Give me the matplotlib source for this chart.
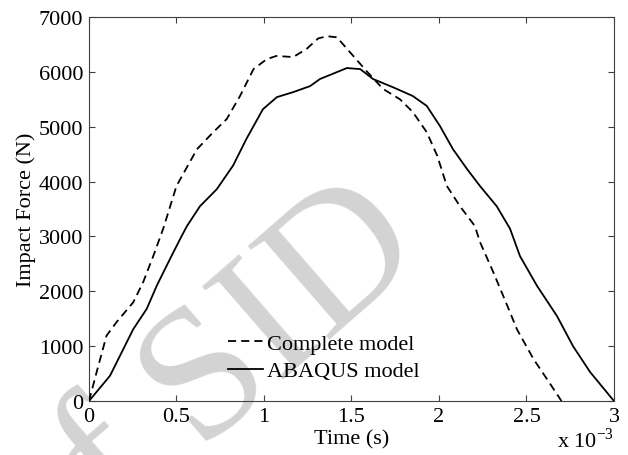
import numpy as np
import matplotlib.pyplot as plt

plt.rcParams.update({
    'font.family': 'serif',
    'font.serif': ['Liberation Serif', 'DejaVu Serif'],
    'mathtext.fontset': 'custom',
    'mathtext.rm': 'Liberation Serif',
    'font.size': 16,
    'axes.unicode_minus': False,
})

# ================= Data (time in ms, force in N) =================
t_complete = [0, 0.044, 0.10, 0.158, 0.253, 0.31, 0.367, 0.424, 0.50, 0.617,
              0.71, 0.787, 0.863, 0.94, 1.015, 1.07, 1.167, 1.244, 1.31, 1.36,
              1.417, 1.51, 1.59, 1.68, 1.777, 1.85, 1.93, 1.99, 2.045, 2.12,
              2.205, 2.234, 2.31, 2.39, 2.445, 2.54, 2.617, 2.70]
f_complete = [0, 530, 1190, 1440, 1800, 2170, 2640, 3140, 3920, 4590,
              4900, 5140, 5560, 6050, 6230, 6290, 6270, 6420, 6610, 6650,
              6630, 6290, 6000, 5690, 5500, 5270, 4900, 4470, 3920, 3550,
              3190, 2900, 2350, 1740, 1310, 765, 400, 0]

t_abaqus = [0, 0.12, 0.253, 0.33, 0.387, 0.463, 0.53, 0.56, 0.634, 0.73,
            0.823, 0.90, 0.994, 1.074, 1.166, 1.263, 1.32, 1.474, 1.55, 1.623,
            1.737, 1.85, 1.93, 2.006, 2.08, 2.16, 2.234, 2.33, 2.406, 2.463,
            2.56, 2.674, 2.766, 2.863, 3.0]
f_abaqus = [0, 460, 1310, 1680, 2100, 2590, 3010, 3190, 3550, 3860,
            4290, 4780, 5320, 5540, 5630, 5740, 5870, 6070, 6050, 5870,
            5720, 5560, 5380, 5010, 4590, 4230, 3920, 3550, 3140, 2640,
            2100, 1550, 1000, 530, 0]

x_ticks = [0, 0.5, 1, 1.5, 2, 2.5, 3]
x_labels = ['0', '0.5', '1', '1.5', '2', '2.5', '3']
y_ticks = [0, 1000, 2000, 3000, 4000, 5000, 6000, 7000]

fig = plt.figure(figsize=(6.28, 4.56), dpi=100)
ax = fig.add_axes([0.1417, 0.1184, 0.8360, 0.8421])

# watermark, behind the curves
ax.text(0.33, 0.155, 'of SID', transform=fig.transFigure, fontsize=135,
        color='#d3d3d3', rotation=41, rotation_mode='anchor',
        ha='center', va='center', zorder=1, clip_on=False)

ax.plot(t_complete, f_complete, color='black', lw=1.3, ls=(0, (4.5, 2.8)),
        label='Complete model', zorder=3)
ax.plot(t_abaqus, f_abaqus, color='black', lw=1.3, label='ABAQUS model', zorder=3)

ax.set_xlim(0, 3)
ax.set_ylim(0, 7000)
ax.set_xticks(x_ticks)
ax.set_xticklabels(x_labels)
ax.set_yticks(y_ticks)
ax.tick_params(direction='in', top=True, right=True, length=4, width=0.8,
               color='#404040', pad=4)
for s in ax.spines.values():
    s.set_color('#404040')
    s.set_linewidth(0.8)

ax.set_xlabel('Time (s)', labelpad=3)
ax.set_ylabel('Impact Force (N)', labelpad=2)
ax.text(1.0, -0.068, r'x 10$^{-3}$', transform=ax.transAxes, ha='right', va='top')

ax.legend(loc='lower left', bbox_to_anchor=(0.243, 0.022), frameon=False,
          handlelength=1.6, handletextpad=0.15, labelspacing=0.3, borderpad=0)

fig.savefig('out.png', dpi=100)
